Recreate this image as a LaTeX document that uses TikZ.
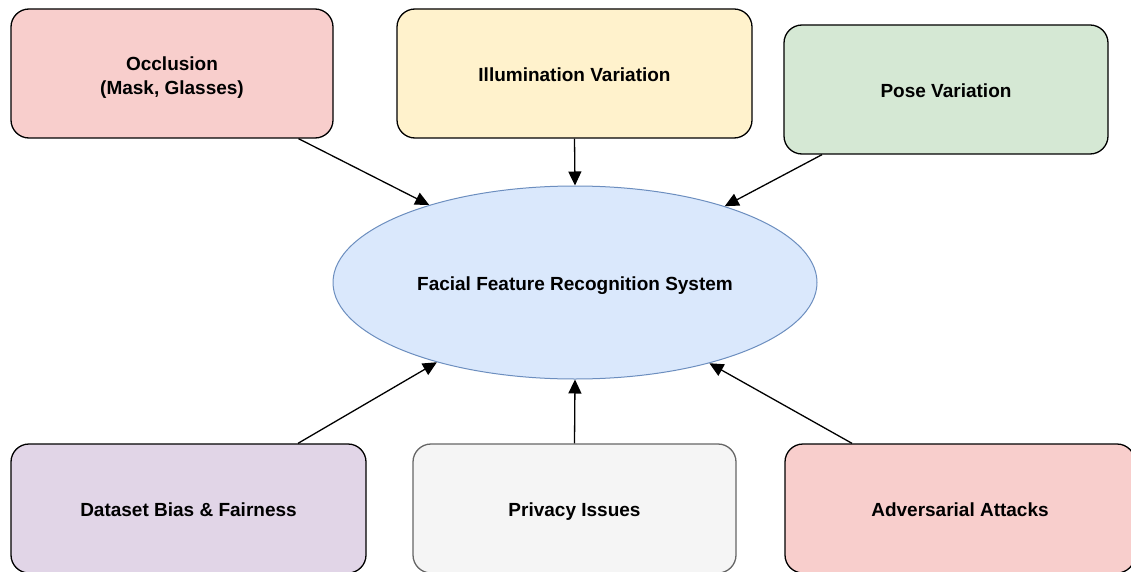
\documentclass[tikz,border=0pt]{standalone}
\usepackage{fontspec}
\setmainfont{Liberation Sans}
\usetikzlibrary{arrows.meta,shapes.geometric}
\definecolor{pinkf}{HTML}{F8CECC}
\definecolor{yellowf}{HTML}{FFF2CC}
\definecolor{greenf}{HTML}{D5E8D4}
\definecolor{bluef}{HTML}{DAE8FC}
\definecolor{blues}{HTML}{6C8EBF}
\definecolor{purplef}{HTML}{E1D5E7}
\definecolor{greyf}{HTML}{F5F5F5}
\definecolor{greys}{HTML}{666666}
\tikzset{
  box/.style={draw=black, line width=1.3pt, rounded corners=18pt, inner sep=0pt,
    minimum height=129pt, align=center, font=\fontsize{19}{24}\selectfont\bfseries},
  oneline/.style={text height=16.5pt, text depth=0.4pt},
  sysnode/.style={ellipse, draw=blues, line width=1pt, fill=bluef, inner sep=0pt,
    minimum width=484pt, minimum height=193pt, text height=16pt, text depth=0.4pt,
    font=\fontsize{19}{24}\selectfont\bfseries},
  arr/.style={line width=1.3pt, -{Triangle[length=14pt,width=13pt]}}
}
\begin{document}
\begin{tikzpicture}[x=1pt,y=-1pt]
\clip (0,0) rectangle (1131,572);
\fill[white] (0,0) rectangle (1131,572);
\node[box, fill=pinkf, minimum width=322pt] (occ) at (172,73.5) {\rule{0pt}{22pt}Occlusion\\(Mask, Glasses)};
\node[box, oneline, fill=yellowf, minimum width=355pt] (ill) at (574.5,73.5) {Illumination Variation};
\node[box, oneline, fill=greenf, minimum width=324pt] (pose) at (946,89.5) {Pose Variation};
\node[sysnode] (sys) at (575,282.5) {Facial Feature Recognition System};
\node[box, oneline, fill=purplef, minimum width=355pt] (data) at (188.5,508.5) {Dataset Bias \& Fairness};
\node[box, oneline, fill=greyf, draw=greys, minimum width=323pt] (priv) at (574.5,508.5) {Privacy Issues};
\node[box, oneline, fill=pinkf, minimum width=350pt] (adv) at (960,508.5) {Adversarial Attacks};
\draw[arr] ([xshift=126.5pt]occ.south) -- (sys.152.8);
\draw[arr] (ill.south) -- (sys.north);
\draw[arr] ([xshift=-124pt]pose.south) -- (sys.27.2);
\draw[arr] ([xshift=109.5pt]data.north) -- (sys.210.1);
\draw[arr] (priv.north) -- (sys.south);
\draw[arr] ([xshift=-108pt]adv.north) -- (sys.329.9);
\end{tikzpicture}
\end{document}
